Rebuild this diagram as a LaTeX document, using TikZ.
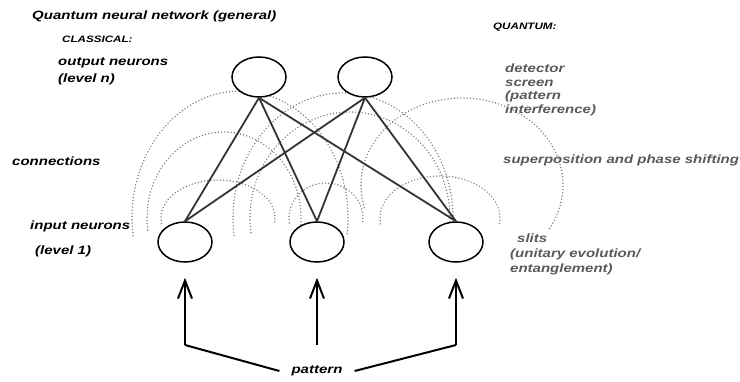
\documentclass[tikz,border=0pt]{standalone}
\usepackage{fontspec}
\usetikzlibrary{shapes.geometric,arrows.meta}
\newfontfamily\qnnfont[FakeStretch=1.25]{Liberation Sans}

\begin{document}
\begin{tikzpicture}[x=1pt,y=1pt,>={Straight Barb[length=18pt,width=14pt]},
    neuron/.style={ellipse,draw,fill=white,line width=1.5pt,minimum width=54pt,minimum height=40pt,inner sep=0pt},
    link/.style={line width=1.8pt,draw=black!80},
    feed/.style={line width=2pt},
    wave/.style={draw=black!50,line width=1.6pt,line cap=round,dash pattern=on 0pt off 3.2pt},
    lbl/.style={anchor=west,inner sep=0pt,align=left,font=\qnnfont\bfseries\itshape\fontsize{12}{14}\selectfont},
    qlbl/.style={lbl,text=black!65}]

  \useasboundingbox (0,0) rectangle (740,381);

  % waves behind the net
  \draw[wave] (218,163) ++(188:57pt and 38pt) arc[start angle=188,end angle=-8,x radius=57pt,y radius=38pt];
  \draw[wave] (224,163) ++(188:77pt and 86pt) arc[start angle=188,end angle=-8,x radius=77pt,y radius=86pt];
  \draw[wave] (240,163) ++(188:108pt and 127pt) arc[start angle=188,end angle=-8,x radius=108pt,y radius=127pt];
  \draw[wave] (326,163) ++(188:37pt and 35pt) arc[start angle=188,end angle=-8,x radius=37pt,y radius=35pt];
  \draw[wave] (350,163) ++(188:100pt and 106pt) arc[start angle=188,end angle=-8,x radius=100pt,y radius=106pt];
  \draw[wave] (343,163) ++(188:110pt and 125pt) arc[start angle=188,end angle=-8,x radius=110pt,y radius=125pt];
  \draw[wave] (440,163) ++(188:60pt and 42pt) arc[start angle=188,end angle=-8,x radius=60pt,y radius=42pt];
  \draw[wave] (462,196) ++(195:101pt and 87pt) arc[start angle=195,end angle=-30,x radius=101pt,y radius=87pt];

  \node[neuron] (out1) at (259,304) {};
  \node[neuron] (out2) at (365,304) {};
  \node[neuron] (in1) at (185,139) {};
  \node[neuron] (in2) at (317,139) {};
  \node[neuron] (in3) at (456,139) {};

  \draw[link] (out1.south) -- (in1.north);
  \draw[link] (out1.south) -- (in2.north);
  \draw[link] (out1.south) -- (in3.north);
  \draw[link] (out2.south) -- (in1.north);
  \draw[link] (out2.south) -- (in2.north);
  \draw[link] (out2.south) -- (in3.north);

  % pattern fed to the inputs
  \coordinate (p1) at (185,36);
  \coordinate (p2) at (317,36);
  \coordinate (p3) at (456,36);
  \node[lbl,anchor=center,inner xsep=12pt] (pat) at (317,10) {pattern};
  \draw[feed,->,shorten >=15pt] (p1) -- (in1);
  \draw[feed,->,shorten >=15pt] (p2) -- (in2);
  \draw[feed,->,shorten >=15pt] (p3) -- (in3);
  \draw[feed] (p1) -- (pat.west);
  \draw[feed] (p3) -- (pat.east);

  % labels
  \node[lbl] (title) at (32,365) {Quantum neural network (general)};
  \node[lbl,font=\qnnfont\bfseries\itshape\fontsize{9.3}{10}\selectfont] (classical) at (62,342) {CLASSICAL:};
  \node[lbl,font=\qnnfont\bfseries\itshape\fontsize{9.3}{10}\selectfont] (quantum) at (493,354) {QUANTUM:};
  \node[lbl,font=\qnnfont\bfseries\itshape\fontsize{12}{17}\selectfont] (outlbl) at (58,310) {output neurons\\(level n)};
  \node[lbl] (connlbl) at (12,220) {connections};
  \node[lbl,font=\qnnfont\bfseries\itshape\fontsize{12}{25}\selectfont] (inlbl) at (30,142) {input neurons\\\hspace*{5pt}(level 1)};
  \node[qlbl,font=\qnnfont\bfseries\itshape\fontsize{12}{13.7}\selectfont] (detlbl) at (505,291) {detector\\screen\\(pattern\\interference)};
  \node[qlbl] (suplbl) at (503,221) {superposition and phase shifting};
  \node[qlbl,font=\qnnfont\bfseries\itshape\fontsize{12}{15}\selectfont] (slitlbl) at (510,127) {\hspace*{7pt}slits\\(unitary evolution/\\entanglement)};
\end{tikzpicture}
\end{document}
